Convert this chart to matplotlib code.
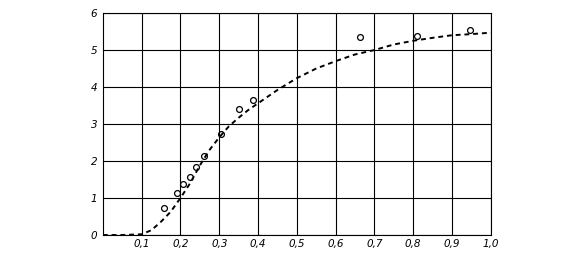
import matplotlib.pyplot as plt

# measured points (open circles)
pts_x = [0.158, 0.191, 0.206, 0.225, 0.241, 0.262, 0.305, 0.350, 0.387, 0.664, 0.811, 0.946]
pts_y = [0.72, 1.14, 1.37, 1.56, 1.83, 2.14, 2.72, 3.41, 3.64, 5.36, 5.39, 5.54]

# dashed curve
curve_x = [0.0, 0.05, 0.1, 0.125, 0.15, 0.175, 0.2, 0.225, 0.25, 0.275, 0.3, 0.325,
           0.35, 0.375, 0.4, 0.45, 0.5, 0.55, 0.6, 0.65, 0.7, 0.75, 0.8, 0.85, 0.9, 0.95, 1.0]
curve_y = [0.0, 0.0, 0.02, 0.13, 0.36, 0.63, 1.0, 1.40, 1.88, 2.30, 2.64, 2.94,
           3.17, 3.38, 3.56, 3.92, 4.24, 4.50, 4.70, 4.88, 5.0, 5.15, 5.25, 5.33, 5.40, 5.43, 5.47]

x_ticks = [0.1, 0.2, 0.3, 0.4, 0.5, 0.6, 0.7, 0.8, 0.9, 1.0]
x_labels = ["0,1", "0,2", "0,3", "0,4", "0,5", "0,6", "0,7", "0,8", "0,9", "1,0"]
y_ticks = [0, 1, 2, 3, 4, 5, 6]

fig = plt.figure(figsize=(5.78, 2.61), dpi=100)
ax = fig.add_axes([0.178, 0.0996, 0.671, 0.8504])

ax.plot(curve_x, curve_y, color="black", lw=1.4, linestyle=(0, (2.5, 2)))
ax.plot(pts_x, pts_y, linestyle="none", marker="o", markersize=4.2,
        markerfacecolor="none", markeredgecolor="black", markeredgewidth=0.9)

ax.set_xlim(0, 1.0)
ax.set_ylim(0, 6)
ax.set_xticks(x_ticks)
ax.set_xticklabels(x_labels, fontstyle="italic", fontsize=7.5)
ax.set_yticks(y_ticks)
ax.set_yticklabels([str(v) for v in y_ticks], fontstyle="italic", fontsize=7.5)
ax.tick_params(axis="x", length=0, pad=3)
ax.tick_params(axis="y", length=0, pad=4)

ax.grid(True, color="black", lw=0.8)
for s in ax.spines.values():
    s.set_linewidth(0.8)

fig.savefig("out.png", dpi=100)
